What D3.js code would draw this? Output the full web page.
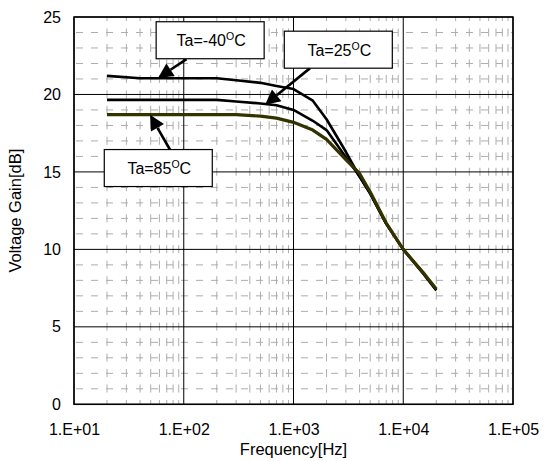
<!DOCTYPE html>
<html><head><meta charset="utf-8">
<script src="https://cdn.jsdelivr.net/npm/d3@7"></script>
<style>body{margin:0;background:#fff}svg{display:block}text{font-family:"Liberation Sans",Arial,sans-serif}</style>
</head><body>
<svg id="c" width="544" height="461"></svg>
<script>
const freqs = [20, 40, 100, 200, 300, 500, 700, 1000, 1500, 2000, 3000, 4000, 5000, 7000, 10000, 15000, 20000];
const gainM40 = [21.2, 21.05, 21.05, 21.05, 20.92, 20.75, 20.55, 20.35, 19.6, 18.4, 16.3, 14.7, 13.6, 11.65, 10.0, 8.5, 7.35];
const gain25  = [19.65, 19.65, 19.65, 19.65, 19.55, 19.42, 19.3, 19.0, 18.3, 17.7, 15.95, 14.7, 13.6, 11.65, 10.0, 8.5, 7.4];
const gain85  = [18.7, 18.7, 18.7, 18.7, 18.7, 18.6, 18.47, 18.2, 17.7, 17.1, 15.8, 14.9, 13.7, 11.7, 10.0, 8.55, 7.45];
const seriesNames = ["Ta=-40", "Ta=25", "Ta=85"];
const xTicks = [10, 100, 1000, 10000, 100000];
const yTicks = [0, 5, 10, 15, 20, 25];
// annotation: box centre [freq, gain], arrow tail [freq, gain], arrow tip [freq, gain]
const boxCenters = [[174, 23.5], [2560, 22.89], [58.6, 15.25]];
const arrowTails = [[106, 22.28], [1416, 21.7], [75, 16.43]];
const arrowTips  = [[58.3, 21.06], [551, 19.33], [49.3, 18.69]];

const svg = d3.select("#c");
const L = 74, R = 513, T = 17, B = 404.3;
const x = d3.scaleLog().domain([10, 1e5]).range([L, R]);
const y = d3.scaleLinear().domain([0, 25]).range([B, T]);

// minor grid
const minorX = [];
for (let d = 10; d < 1e5; d *= 10) for (let k = 2; k <= 9; k++) minorX.push(d * k);
const minorY = d3.range(1, 25).filter(v => v % 5 !== 0);
const g = svg.append("g");
g.selectAll(".mx").data(minorX).join("line")
  .attr("x1", d => x(d)).attr("x2", d => x(d)).attr("y1", T).attr("y2", B)
  .attr("stroke", "#adadad").attr("stroke-width", 1)
  .attr("stroke-dasharray", "8,7.48").attr("stroke-dashoffset", 4);
g.selectAll(".my").data(minorY).join("line")
  .attr("x1", L).attr("x2", R).attr("y1", d => y(d)).attr("y2", d => y(d))
  .attr("stroke", "#adadad").attr("stroke-width", 1)
  .attr("stroke-dasharray", "7,8").attr("stroke-dashoffset", -2);
// major grid
g.selectAll(".Mx").data(xTicks).join("line")
  .attr("x1", d => x(d)).attr("x2", d => x(d)).attr("y1", T).attr("y2", B)
  .attr("stroke", "#000").attr("stroke-width", 1);
g.selectAll(".My").data(yTicks).join("line")
  .attr("x1", L).attr("x2", R).attr("y1", d => y(d)).attr("y2", d => y(d))
  .attr("stroke", "#000").attr("stroke-width", 1);
svg.append("rect").attr("x", L).attr("y", T).attr("width", R - L).attr("height", B - T)
  .attr("fill", "none").attr("stroke", "#000").attr("stroke-width", 1.5);

// axes labels
const fmt = d => "1.E+" + String(Math.round(Math.log10(d))).padStart(2, "0");
const xa = svg.append("g").attr("transform", `translate(0,${B})`)
  .call(d3.axisBottom(x).tickValues(xTicks).tickFormat(fmt).tickSize(0).tickPadding(19));
xa.select(".domain").remove();
xa.selectAll("text").attr("font-size", 16).attr("fill", "#000").attr("font-family", "Liberation Sans, Arial, sans-serif");
const ya = svg.append("g").attr("transform", `translate(${L},0)`)
  .call(d3.axisLeft(y).tickValues(yTicks).tickSize(0).tickPadding(13));
ya.select(".domain").remove();
ya.selectAll("text").attr("font-size", 16).attr("fill", "#000").attr("font-family", "Liberation Sans, Arial, sans-serif");

svg.append("text").attr("x", (L + R) / 2 - 0).attr("y", 455).attr("text-anchor", "middle")
  .attr("font-size", 16.5).text("Frequency[Hz]");
svg.append("text").attr("transform", `translate(21,${(T + B) / 2}) rotate(-90)`).attr("text-anchor", "middle")
  .attr("font-size", 16.5).text("Voltage Gain[dB]");

// series
const line = d3.line().x(d => x(d[0])).y(d => y(d[1]));
const series = [gainM40, gain25, gain85];
const colors = ["#000000", "#000000", "#333300"];
const widths = [2.6, 2.6, 3.2];
[0, 1, 2].forEach(i => {
  svg.append("path").datum(freqs.map((f, j) => [f, series[i][j]]))
    .attr("d", line).attr("fill", "none").attr("stroke", colors[i])
    .attr("stroke-width", widths[i]).attr("stroke-linejoin", "round");
});
// annotations
const bw = 108, bh = 37;
seriesNames.forEach((name, i) => {
  const [tx, ty] = [x(arrowTails[i][0]), y(arrowTails[i][1])];
  const [px, py] = [x(arrowTips[i][0]), y(arrowTips[i][1])];
  const ang = Math.atan2(py - ty, px - tx);
  const hl = 15, hw = 7.5;
  const bx = px - hl * Math.cos(ang), by = py - hl * Math.sin(ang);
  svg.append("line").attr("x1", tx).attr("y1", ty).attr("x2", bx).attr("y2", by)
    .attr("stroke", "#000").attr("stroke-width", 2.6);
  svg.append("path").attr("d", d3.line()([[px, py],
    [bx + hw * Math.sin(ang), by - hw * Math.cos(ang)],
    [bx - hw * Math.sin(ang), by + hw * Math.cos(ang)]]) + "Z").attr("fill", "#000");
  const cx = x(boxCenters[i][0]), cy = y(boxCenters[i][1]);
  svg.append("rect").attr("x", cx - bw / 2).attr("y", cy - bh / 2).attr("width", bw).attr("height", bh)
    .attr("fill", "#fff").attr("stroke", "#000").attr("stroke-width", 1.2);
  const t = svg.append("text").attr("x", cx + 1).attr("y", cy + 6).attr("text-anchor", "middle").attr("font-size", 16);
  t.append("tspan").text(name);
  t.append("tspan").attr("font-size", 10.5).attr("dy", -6).text("O");
  t.append("tspan").attr("dy", 6).text("C");
});
</script>
</body></html>
